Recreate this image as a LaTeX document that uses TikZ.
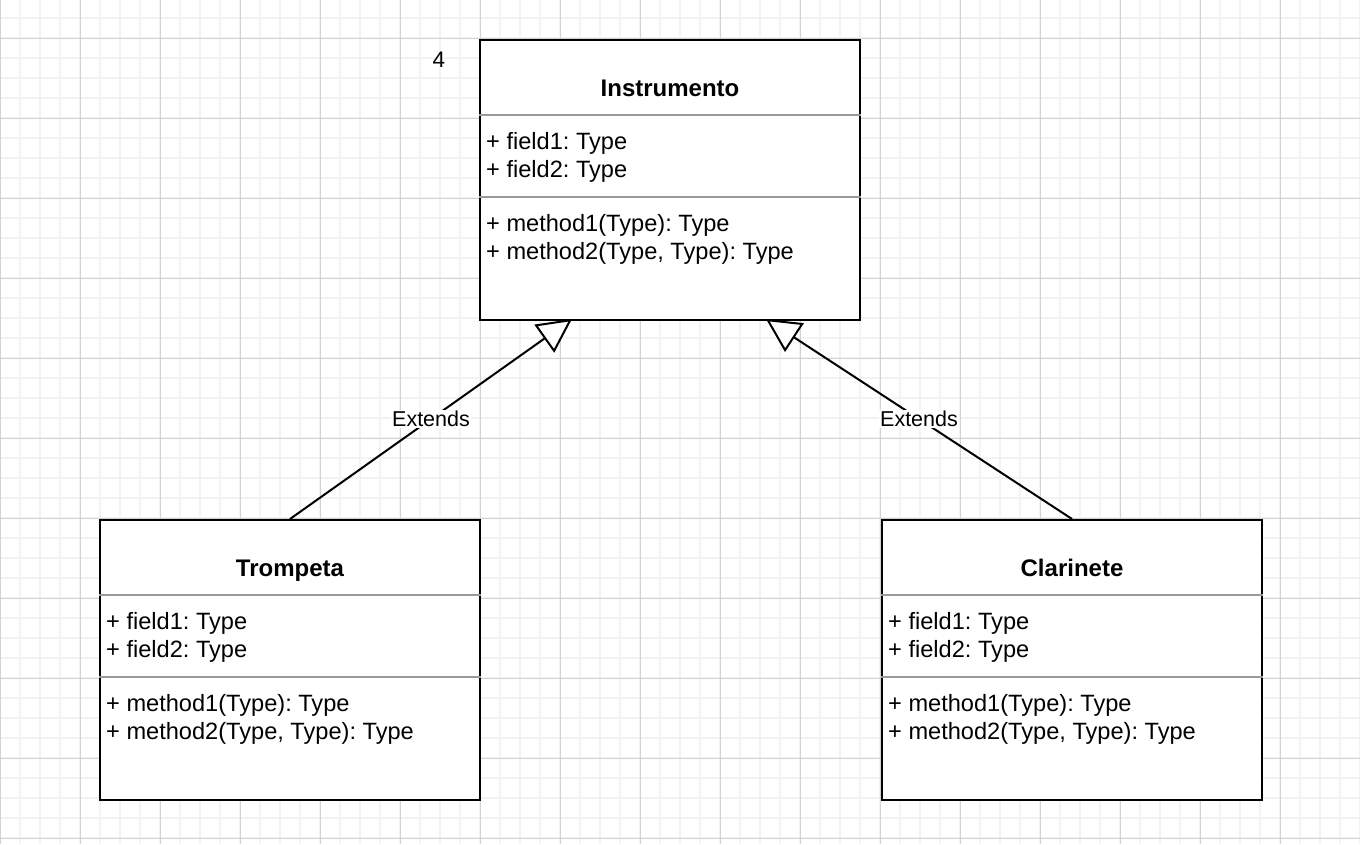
\documentclass[tikz,border=0pt]{standalone}
\usepackage{fontspec}
\setmainfont{Liberation Sans}
\usetikzlibrary{arrows.meta}
\definecolor{sepgray}{HTML}{9A9A9A}
\definecolor{minorgrid}{HTML}{F3F3F3}
\definecolor{majorgrid}{HTML}{D2D2D2}
\begin{document}
\frenchspacing
\begin{tikzpicture}[x=1pt,y=-1pt,
  minor/.style={draw=minorgrid, line width=1.4pt},
  major/.style={draw=majorgrid, line width=1pt},
  cls/.style={draw=black, line width=2pt, fill=white, minimum width=380pt, minimum height=280pt, inner sep=0pt, anchor=north west},
  sep/.style={draw=sepgray, line width=1.5pt},
  txt/.style={font=\fontsize{23.6}{28}\selectfont, inner sep=0pt, anchor=base west},
  ttl/.style={font=\fontsize{24}{28}\selectfont\bfseries, inner sep=0pt, anchor=base},
  ext/.style={line width=2pt, -{Triangle[length=34pt,width=34pt,fill=white,line join=miter]}},
  lbl/.style={fill=white, font=\fontsize{21.5}{26}\selectfont, inner sep=1.5pt}
]
\useasboundingbox (0,0) rectangle (1360,844);
\fill[white] (0,0) rectangle (1360,844);
\foreach \i in {0,20,...,1360} \draw[minor] (\i,0) -- (\i,844);
\foreach \j in {18,38,...,838} \draw[minor] (0,\j) -- (1360,\j);
\foreach \i in {0,80,...,1360} \draw[major] (\i,0) -- (\i,844);
\foreach \j in {38,118,...,838} \draw[major] (0,\j) -- (1360,\j);

\foreach \n/\t/\x/\y in {inst/Instrumento/479/39, trom/Trompeta/99/519, clar/Clarinete/881/519}{
  \node[cls] (\n) at (\x,\y) {};
  \draw[sep] ([yshift=-76pt]\n.north west) -- ([yshift=-76pt]\n.north east);
  \draw[sep] ([yshift=-158pt]\n.north west) -- ([yshift=-158pt]\n.north east);
  \node[ttl] (\n-title) at ([yshift=-57pt]\n.north) {\t};
  \node[txt] (\n-f1) at ([xshift=7pt,yshift=-110pt]\n.north west) {+ field1: Type};
  \node[txt] (\n-f2) at ([xshift=7pt,yshift=-138pt]\n.north west) {+ field2: Type};
  \node[txt] (\n-m1) at ([xshift=7pt,yshift=-192pt]\n.north west) {+ method1(Type): Type};
  \node[txt] (\n-m2) at ([xshift=7pt,yshift=-220pt]\n.north west) {+ method2(Type, Type): Type};
}

\node[font=\fontsize{22.5}{27}\selectfont, inner sep=0pt] (num) at (439,60) {4};

\coordinate (instL) at (572,319);
\coordinate (instR) at (766,319);
\draw[ext] (trom.north) -- node[lbl] (lblL) {Extends} (instL);
\draw[ext] (clar.north) -- node[lbl] (lblR) {Extends} (instR);
\end{tikzpicture}
\end{document}
